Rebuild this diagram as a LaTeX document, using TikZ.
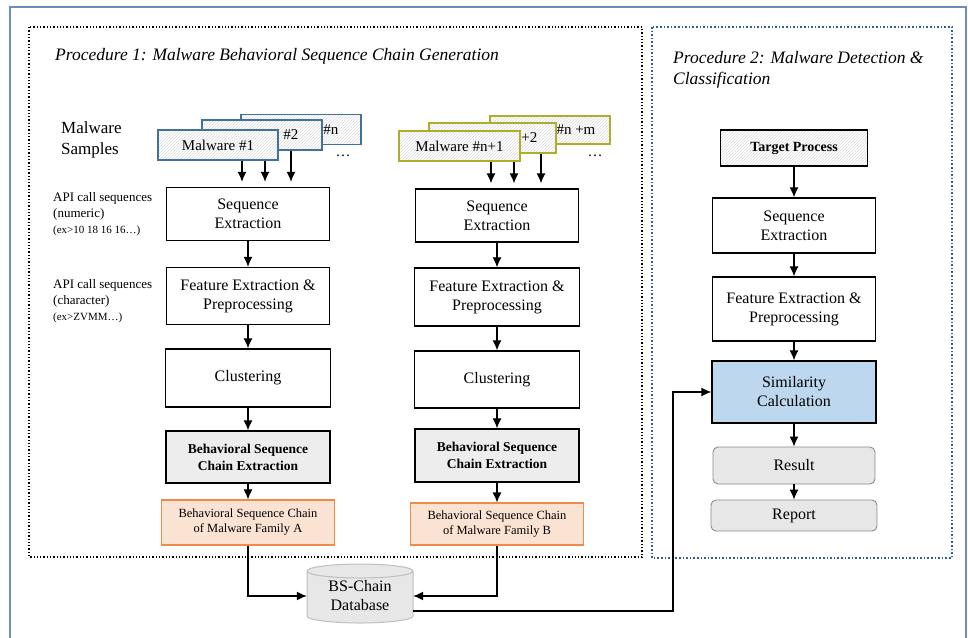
\documentclass[tikz,border=0pt]{standalone}
\usepackage{fontspec}
\setmainfont{Liberation Serif}
\usepackage{tikz}
\usetikzlibrary{calc, arrows, arrows.meta, shapes, patterns}
\tikzset{>={Latex[length=10pt,width=9pt]}}
\definecolor{frameblue}{HTML}{6B8DB5}
\definecolor{dotblue}{HTML}{2E5F9A}
\definecolor{cardblue}{HTML}{41719C}
\definecolor{cardgreen}{HTML}{AEAE2A}
\definecolor{famfill}{HTML}{FBE3D3}
\definecolor{famline}{HTML}{F08A4B}
\definecolor{simfill}{HTML}{BDD7EE}
\definecolor{resfill}{HTML}{E7E7E7}
\tikzset{
  box/.style={draw, line width=1.3pt, fill=white, align=center, inner sep=0pt,
    font=\fontsize{16}{19}\selectfont},
  boldbox/.style={box, fill=black!7, font=\fontsize{13.5}{17}\selectfont\bfseries},
  fambox/.style={box, draw=famline, line width=1.1pt, fill=famfill,
    font=\fontsize{12.5}{15}\selectfont},
  endbox/.style={box, draw=black!45, line width=0.9pt, fill=resfill, rounded corners=5pt},
  card/.style={draw=#1, line width=1.2pt, preaction={fill=white},
    pattern=north east lines, pattern color=black!14, inner sep=0pt,
    minimum height=30pt, font=\fontsize{15}{18}\selectfont},
  cardtext/.style={anchor=east, inner sep=0pt, font=\fontsize{15}{18}\selectfont},
  flow/.style={->, line width=1.2pt},
  side/.style={align=left, inner sep=0pt, anchor=north west,
    font=\fontsize{13}{16}\selectfont},
}
\begin{document}
\begin{tikzpicture}[x=1pt, y=-1pt]
\useasboundingbox (0,0) rectangle (968,637);
% frames
\draw[frameblue, line width=1.3pt] (10,7) rectangle (966,660);
\draw[dotted, line width=1.3pt] (29,27) rectangle (642,557);
\draw[dotblue, dotted, line width=1.6pt] (652,27) rectangle (952,558);
\node[anchor=west, inner sep=0pt, font=\fontsize{17.5}{20}\selectfont\itshape] (title1) at (55,56)
  {Procedure 1: Malware Behavioral Sequence Chain Generation};
\node[anchor=north west, align=left, inner sep=0pt, font=\fontsize{17.5}{21}\selectfont\itshape] (title2) at (673,51)
  {Procedure 2: Malware Detection \&\\Classification};

% side labels
\node[side, font=\fontsize{17}{21}\selectfont] (samples) at (61,122) {Malware\\Samples};
\node[side] (apinum) at (53,192) {API call sequences\\(numeric)\\{\fontsize{11}{14}\selectfont(ex>10 18 16 16…)}};
\node[side] (apichr) at (53,279) {API call sequences\\(character)\\{\fontsize{11}{14}\selectfont(ex>ZVMM…)}};

% malware samples, family A
\node[card=cardblue, minimum width=120pt] (mA3) at (301,129.5) {};
\node[cardtext] (tA3) at ($(mA3.east)+(-23,0)$) {\#n};
\node[card=cardblue, minimum width=120pt] (mA2) at (262,135) {};
\node[cardtext] (tA2) at ($(mA2.east)+(-24,0)$) {\#2};
\node[card=cardblue, minimum width=120pt] (mA1) at (218,145) {Malware \#1};
\node[inner sep=0pt, font=\fontsize{15}{18}\selectfont] (dotsA) at (343,156) {\dots};

% malware samples, family B
\node[card=cardgreen, minimum width=120pt, minimum height=28pt] (mB3) at (550,130) {};
\node[cardtext] (tB3) at ($(mB3.east)+(-15,0)$) {\#n +m};
\node[card=cardgreen, minimum width=127pt] (mB2) at (492.5,138) {};
\node[cardtext] (tB2) at ($(mB2.east)+(-19,0)$) {+2};
\node[card=cardgreen, minimum width=121pt] (mB1) at (459.5,146) {Malware \#n+1};
\node[inner sep=0pt, font=\fontsize{15}{18}\selectfont] (dotsB) at (595,156) {\dots};

% column A
\node[box, minimum width=163pt, minimum height=53pt] (seqA) at (248,214) {Sequence\\Extraction};
\node[box, minimum width=163pt, minimum height=57pt] (featA) at (248,296) {Feature Extraction \&\\Preprocessing};
\node[box, minimum width=165pt, minimum height=58pt] (clusA) at (248,378) {Clustering};
\node[boldbox, minimum width=164pt, minimum height=52pt] (bscA) at (248,457) {Behavioral Sequence\\Chain Extraction};
\node[fambox, minimum width=173pt, minimum height=45pt] (famA) at (248,522.5) {Behavioral Sequence Chain\\of Malware Family A};

% column B
\node[box, minimum width=163pt, minimum height=53pt] (seqB) at (497,215.5) {Sequence\\Extraction};
\node[box, minimum width=165pt, minimum height=58pt] (featB) at (497,297) {Feature Extraction \&\\Preprocessing};
\node[box, minimum width=165pt, minimum height=57pt] (clusB) at (497,379.5) {Clustering};
\node[boldbox, minimum width=164pt, minimum height=53pt] (bscB) at (497,455.5) {Behavioral Sequence\\Chain Extraction};
\node[fambox, minimum width=173pt, minimum height=42pt] (famB) at (497,524) {Behavioral Sequence Chain\\of Malware Family B};

% column C
\node[box, line width=1.5pt, minimum width=147pt, minimum height=36pt, preaction={fill=white},
  pattern=north east lines, pattern color=black!14, font=\fontsize{14}{17}\selectfont\bfseries] (target) at (794,148) {Target Process};
\node[box, minimum width=163pt, minimum height=55pt] (seqC) at (794,225.5) {Sequence\\Extraction};
\node[box, minimum width=163pt, minimum height=64pt] (featC) at (794,309) {Feature Extraction \&\\Preprocessing};
\node[box, fill=simfill, minimum width=164pt, minimum height=62pt] (sim) at (794,392) {Similarity\\Calculation};
\node[endbox, minimum width=162pt, minimum height=37pt] (res) at (794,465.5) {Result};
\node[endbox, minimum width=166pt, minimum height=31pt] (rep) at (794,515.5) {Report};

% database
\fill[resfill] (307,571) -- (307,616) arc[start angle=180, end angle=0, x radius=53, y radius=7] -- (413,571) -- cycle;
\draw[black!25, line width=1pt] (307,571) -- (307,616) arc[start angle=180, end angle=0, x radius=53, y radius=7] -- (413,571);
\draw[black!25, line width=1pt, fill=resfill] (360,571) ellipse [x radius=53, y radius=7];
\node[inner sep=0pt, minimum width=106pt, minimum height=57pt, align=center,
  font=\fontsize{16}{19}\selectfont] (db) at (360,596) {BS-Chain\\Database};

% arrows
\draw[flow] ([xshift=-6pt]seqA.north |- mA1.south) -- ([xshift=-6pt, yshift=5pt]seqA.north);
\draw[flow] ([xshift=17pt]seqA.north |- mA1.south) -- ([xshift=17pt, yshift=5pt]seqA.north);
\draw[flow] ([xshift=43pt]seqA.north |- mA2.south) -- ([xshift=43pt, yshift=5pt]seqA.north);
\draw[flow] ([xshift=-6pt]seqB.north |- mB1.south) -- ([xshift=-6pt, yshift=5pt]seqB.north);
\draw[flow] ([xshift=17pt]seqB.north |- mB1.south) -- ([xshift=17pt, yshift=5pt]seqB.north);
\draw[flow] ([xshift=44pt]seqB.north |- mB2.south) -- ([xshift=44pt, yshift=5pt]seqB.north);
\draw[flow] (seqA) -- (featA);
\draw[flow] (featA) -- (clusA);
\draw[flow] (clusA) -- (bscA);
\draw[flow] (bscA) -- (famA);
\draw[flow] (seqB) -- (featB);
\draw[flow] (featB) -- (clusB);
\draw[flow] (clusB) -- (bscB);
\draw[flow] (bscB) -- (famB);
\draw[flow] (target) -- (seqC);
\draw[flow] (seqC) -- (featC);
\draw[flow] (featC) -- (sim);
\draw[flow] (sim) -- (res);
\draw[flow] (res) -- (rep);
\draw[flow] (famA.south) |- (db.west);
\draw[flow] (famB.south) |- (db.east);
\coordinate (bend) at (673,611);
\draw[flow] (db.east |- bend) -- (bend) |- (sim.west);
\end{tikzpicture}
\end{document}
